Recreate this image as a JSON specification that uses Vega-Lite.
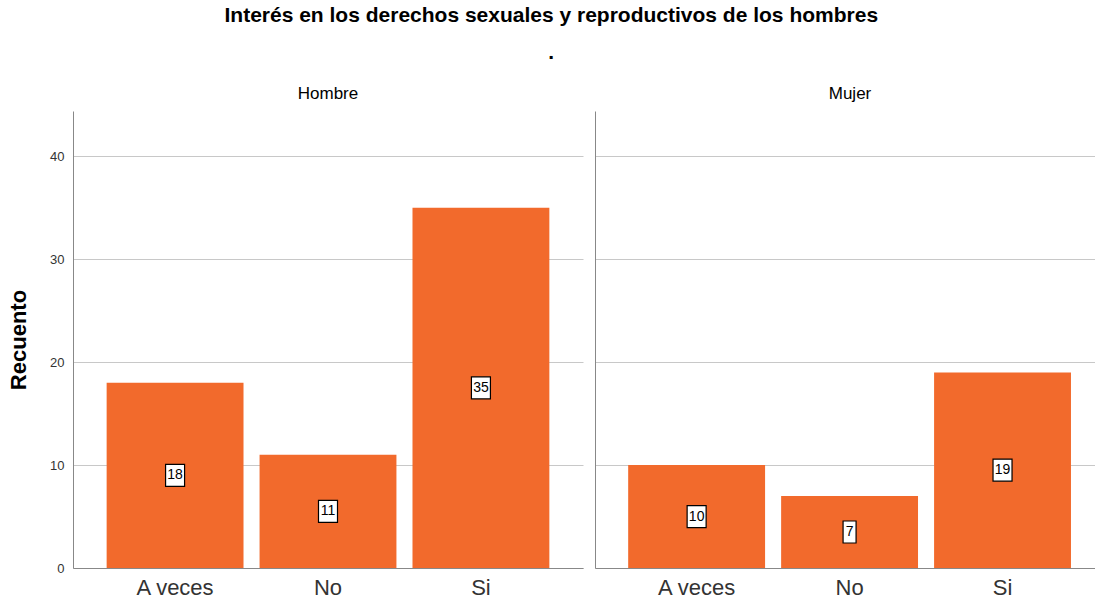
{
  "$schema": "https://vega.github.io/schema/vega-lite/v6.json",
  "padding": {"left": 7, "top": 5, "right": 0, "bottom": 0},
  "background": "white",
  "title": {
    "text": "Interés en los derechos sexuales y reproductivos de los hombres",
    "subtitle": ".",
    "fontSize": 21,
    "fontWeight": "bold",
    "subtitleFontSize": 21,
    "subtitleFontWeight": "bold",
    "subtitlePadding": 16,
    "anchor": "middle",
    "font": "Liberation Sans",
    "subtitleFont": "Liberation Sans",
    "color": "black",
    "subtitleColor": "black",
    "offset": 22
  },
  "data": {
    "values": [
      {"sexo": "Hombre", "respuesta": "A veces", "recuento": 18},
      {"sexo": "Hombre", "respuesta": "No", "recuento": 11},
      {"sexo": "Hombre", "respuesta": "Si", "recuento": 35},
      {"sexo": "Mujer", "respuesta": "A veces", "recuento": 10},
      {"sexo": "Mujer", "respuesta": "No", "recuento": 7},
      {"sexo": "Mujer", "respuesta": "Si", "recuento": 19}
    ]
  },
  "transform": [{"calculate": "datum.recuento/2", "as": "mitad"}],
  "spacing": 12,
  "config": {"view": {"stroke": null}, "font": "Liberation Sans"},
  "hconcat": [
    {
      "width": 510,
      "height": 457,
      "title": {"text": "Hombre", "fontSize": 17, "fontWeight": "normal", "offset": 8, "color": "black"},
      "transform": [{"filter": "datum.sexo === 'Hombre'"}],
      "encoding": {
        "x": {
          "field": "respuesta", "type": "nominal", "sort": ["A veces", "No", "Si"],
          "scale": {"paddingInner": 0.105, "paddingOuter": 0.22},
          "axis": {"title": null, "labelFontSize": 22, "labelColor": "#333", "ticks": false, "labelPadding": 9, "domainColor": "#888", "labelAngle": 0}
        }
      },
      "layer": [
        {
          "mark": {"type": "bar", "color": "#F26A2C"},
          "encoding": {
            "y": {
              "field": "recuento", "type": "quantitative",
              "scale": {"domain": [0, 44.4], "nice": false},
              "axis": {"title": "Recuento", "titleFontSize": 22, "titleFontWeight": "bold", "titleColor": "black", "labelFontSize": 13, "labelColor": "#333", "ticks": false, "labelPadding": 9, "domainColor": "#888", "gridColor": "#c8c8c8", "values": [0, 10, 20, 30, 40], "titlePadding": 19}
            }
          }
        },
        {
          "transform": [{"filter": "datum.recuento >= 10"}],
          "mark": {"type": "bar", "width": 19, "fill": "white", "stroke": "black", "strokeWidth": 1.2, "yOffset": -11, "y2Offset": 11},
          "encoding": {"y": {"field": "mitad", "type": "quantitative", "title": "Recuento"}, "y2": {"field": "mitad"}}
        },
        {
          "transform": [{"filter": "datum.recuento < 10"}],
          "mark": {"type": "bar", "width": 13, "fill": "white", "stroke": "black", "strokeWidth": 1.2, "yOffset": -11, "y2Offset": 11},
          "encoding": {"y": {"field": "mitad", "type": "quantitative", "title": "Recuento"}, "y2": {"field": "mitad"}}
        },
        {
          "mark": {"type": "text", "fontSize": 14, "baseline": "middle", "align": "center", "color": "black"},
          "encoding": {"y": {"field": "mitad", "type": "quantitative", "title": "Recuento"}, "text": {"field": "recuento", "type": "quantitative"}}
        }
      ]
    },
    {
      "width": 500,
      "height": 457,
      "title": {"text": "Mujer", "fontSize": 17, "fontWeight": "normal", "offset": 8, "color": "black", "dx": 5},
      "transform": [{"filter": "datum.sexo === 'Mujer'"}],
      "encoding": {
        "x": {
          "field": "respuesta", "type": "nominal", "sort": ["A veces", "No", "Si"],
          "scale": {"paddingInner": 0.105, "paddingOuter": 0.187, "align": 0.58},
          "axis": {"title": null, "labelFontSize": 22, "labelColor": "#333", "ticks": false, "labelPadding": 9, "domainColor": "#888", "labelAngle": 0}
        }
      },
      "layer": [
        {
          "mark": {"type": "bar", "color": "#F26A2C"},
          "encoding": {
            "y": {
              "field": "recuento", "type": "quantitative",
              "scale": {"domain": [0, 44.4], "nice": false},
              "axis": {"title": null, "labels": false, "ticks": false, "domainColor": "#888", "gridColor": "#c8c8c8", "values": [0, 10, 20, 30, 40]}
            }
          }
        },
        {
          "transform": [{"filter": "datum.recuento >= 10"}],
          "mark": {"type": "bar", "width": 19, "fill": "white", "stroke": "black", "strokeWidth": 1.2, "yOffset": -11, "y2Offset": 11},
          "encoding": {"y": {"field": "mitad", "type": "quantitative", "title": null}, "y2": {"field": "mitad"}}
        },
        {
          "transform": [{"filter": "datum.recuento < 10"}],
          "mark": {"type": "bar", "width": 13, "fill": "white", "stroke": "black", "strokeWidth": 1.2, "yOffset": -11, "y2Offset": 11},
          "encoding": {"y": {"field": "mitad", "type": "quantitative", "title": null}, "y2": {"field": "mitad"}}
        },
        {
          "mark": {"type": "text", "fontSize": 14, "baseline": "middle", "align": "center", "color": "black"},
          "encoding": {"y": {"field": "mitad", "type": "quantitative", "title": null}, "text": {"field": "recuento", "type": "quantitative"}}
        }
      ]
    }
  ]
}
